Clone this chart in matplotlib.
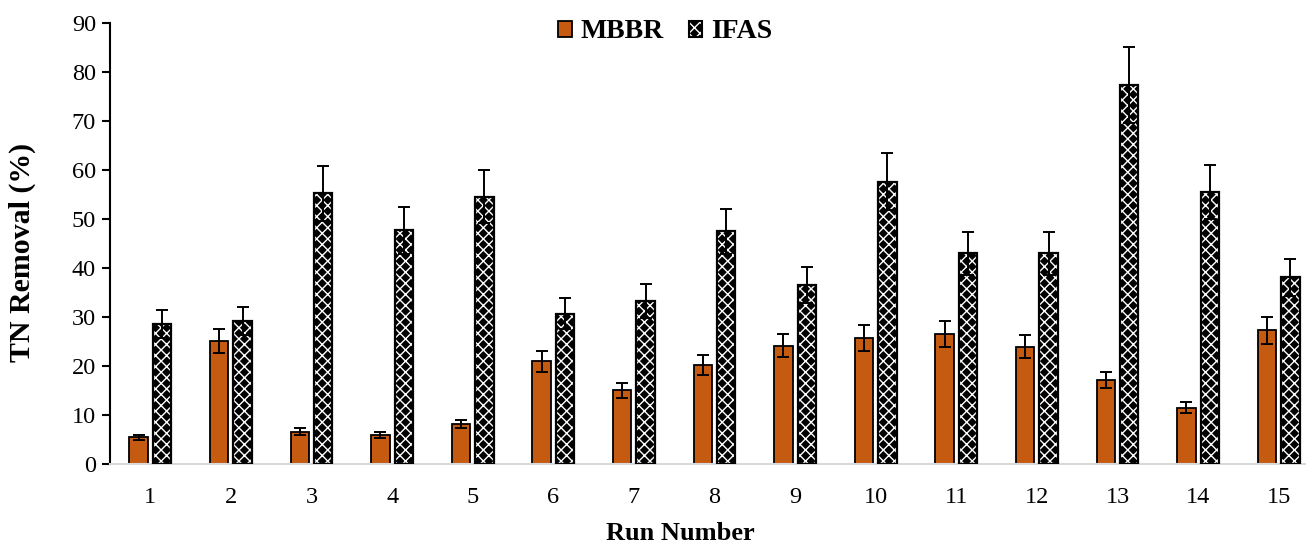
import matplotlib
matplotlib.use("Agg")
import matplotlib.pyplot as plt
import numpy as np
from matplotlib.patches import Patch
from matplotlib.legend_handler import HandlerTuple

plt.rcParams["font.family"] = ["Liberation Serif", "DejaVu Serif"]

runs = list(range(1, 16))
mbbr = [5.5, 25.1, 6.6, 6.0, 8.2, 21.0, 15.1, 20.2, 24.2, 25.8, 26.5, 24.0, 17.2, 11.5, 27.3]
mbbr_err = [0.55, 2.45, 0.7, 0.55, 0.75, 2.1, 1.55, 2.0, 2.4, 2.65, 2.65, 2.4, 1.7, 1.1, 2.8]
ifas = [28.6, 29.2, 55.2, 47.7, 54.5, 30.7, 33.3, 47.5, 36.6, 57.6, 43.0, 43.0, 77.3, 55.5, 38.1]
ifas_err = [2.9, 2.9, 5.6, 4.75, 5.4, 3.1, 3.4, 4.6, 3.7, 5.8, 4.35, 4.35, 7.8, 5.5, 3.7]

W, H = 1306, 542
fig = plt.figure(figsize=(W / 100, H / 100), dpi=100)
ax = fig.add_axes([110 / W, 77.7 / H, (1306 - 110) / W, (464.3 - 22.7) / H])

x = np.array(runs, dtype=float)
bw = 0.23
off = 0.145
orange = "#C55A11"

ax.bar(x - off, mbbr, bw, color=orange, edgecolor="black", linewidth=1.3, zorder=2)
ax.errorbar(x - off, mbbr, yerr=mbbr_err, fmt="none", ecolor="black",
            elinewidth=1.4, capsize=4.5, capthick=1.4, zorder=4)

# dotted fill: white hatch over black, then a black outline on top
plt.rcParams["hatch.linewidth"] = 1.0
ax.bar(x + off, ifas, bw, color="black", edgecolor="white", hatch="xxx",
       linewidth=0, zorder=2)
ax.bar(x + off, ifas, bw, color="none", edgecolor="black", linewidth=1.6, zorder=3)
ax.errorbar(x + off, ifas, yerr=ifas_err, fmt="none", ecolor="black",
            elinewidth=1.4, capsize=4.5, capthick=1.4, zorder=4)

ax.set_xlim(0.5, 0.5 + (1306 - 110) / 80.6)
ax.set_ylim(0, 90)
ax.set_yticks(range(0, 91, 10))
ax.set_xticks(x)
ax.set_xticklabels([str(r) for r in runs])
ax.tick_params(axis="y", length=6, width=1.5, labelsize=17.5, pad=4)
ax.tick_params(axis="x", length=0, labelsize=17.5, pad=16)

for s in ["top", "right"]:
    ax.spines[s].set_visible(False)
ax.spines["left"].set_linewidth(1.5)
ax.spines["bottom"].set_color("#d9d9d9")
ax.spines["bottom"].set_linewidth(1.5)

ax.set_ylabel("TN Removal (%)", fontsize=21.5, fontweight="bold", va="center")
ax.yaxis.set_label_coords((22 - 110) / 1196, (464.3 - 252) / 441.6)
ax.set_xlabel("Run Number", fontsize=19, fontweight="bold", va="center")
ax.xaxis.set_label_coords((680 - 110) / 1196, (464.3 - 533) / 441.6)

h1 = Patch(facecolor=orange, edgecolor="black", linewidth=1.3)
h2a = Patch(facecolor="black", edgecolor="white", hatch="xxx", linewidth=0)
h2b = Patch(facecolor="none", edgecolor="black", linewidth=1.5)
fig.legend([h1, (h2a, h2b)], ["MBBR", "IFAS"], loc="center",
           bbox_to_anchor=(665 / W, 1 - 32 / H), ncol=2, frameon=False,
           handlelength=0.5, handleheight=0.5, handletextpad=0.3, columnspacing=0.9,
           prop={"size": 20, "weight": "bold"},
           handler_map={tuple: HandlerTuple(ndivide=1, pad=0)})

fig.savefig("out.png", dpi=100)
